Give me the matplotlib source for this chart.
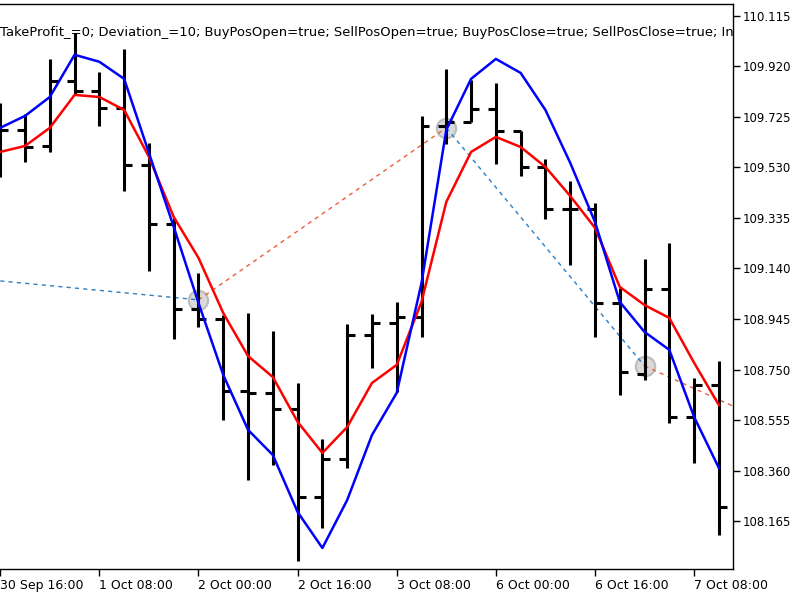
import matplotlib
matplotlib.use("Agg")
import matplotlib.pyplot as plt

# 4H bars, 30 Sep 16:00 .. 7 Oct 12:00
opens = [109.683, 109.675, 109.613, 109.864, 109.825, 109.760, 109.540, 109.312, 108.984, 108.945,
         108.667, 108.659, 108.598, 108.258, 108.405, 108.883, 108.930, 108.953, 109.690, 109.706,
         109.756, 109.671, 109.532, 109.370, 109.370, 109.007, 108.733, 109.061, 108.567, 108.690]
highs = [109.779, 109.737, 109.949, 110.049, 109.899, 109.988, 109.625, 109.335, 109.123, 108.961,
         108.968, 108.899, 108.698, 108.482, 108.926, 108.964, 109.011, 109.729, 109.910, 109.868,
         109.856, 109.671, 109.563, 109.478, 109.393, 109.065, 109.177, 109.239, 108.717, 108.783]
lows = [109.493, 109.551, 109.590, 109.810, 109.690, 109.439, 109.130, 108.868, 108.914, 108.555,
        108.323, 108.381, 108.011, 108.138, 108.370, 108.756, 108.663, 108.876, 109.621, 109.706,
        109.544, 109.497, 109.331, 109.154, 108.876, 108.652, 108.710, 108.544, 108.389, 108.111]
closes = [109.675, 109.609, 109.864, 109.825, 109.760, 109.540, 109.312, 108.984, 108.945, 108.667,
          108.659, 108.598, 108.258, 108.405, 108.883, 108.930, 108.953, 109.690, 109.706, 109.756,
          109.671, 109.532, 109.370, 109.370, 109.007, 108.740, 109.061, 108.567, 108.690, 108.219]

ma_fast = [109.683, 109.729, 109.802, 109.965, 109.938, 109.872, 109.586, 109.301, 109.007, 108.729,
           108.517, 108.420, 108.200, 108.061, 108.246, 108.497, 108.660, 109.084, 109.675, 109.872,
           109.949, 109.895, 109.752, 109.548, 109.320, 109.011, 108.895, 108.826, 108.567, 108.370]
ma_slow = [109.590, 109.613, 109.683, 109.810, 109.802, 109.752, 109.571, 109.339, 109.181, 108.968,
           108.802, 108.721, 108.548, 108.428, 108.528, 108.698, 108.768, 109.011, 109.397, 109.590,
           109.648, 109.609, 109.532, 109.420, 109.297, 109.069, 108.999, 108.949, 108.776, 108.613]

# deals: bar index / price, and the trade lines between them
deal_bars = [8, 18, 26]
deal_prices = [109.019, 109.683, 108.764]
buy_lines = [([0, 8], [109.092, 109.019]), ([18, 26], [109.683, 108.764])]
sell_lines = [([8, 18], [109.019, 109.683]), ([26, 30], [108.764, 108.590])]

x_labels = ["30 Sep 16:00", "1 Oct 08:00", "2 Oct 00:00", "2 Oct 16:00",
            "3 Oct 08:00", "6 Oct 00:00", "6 Oct 16:00", "7 Oct 08:00"]
y_ticks = [108.165, 108.360, 108.555, 108.750, 108.945, 109.140, 109.335, 109.530, 109.725, 109.920, 110.115]

info = "TakeProfit_=0; Deviation_=10; BuyPosOpen=true; SellPosOpen=true; BuyPosClose=true; SellPosClose=true; In"

plt.rcParams['font.family'] = ['DejaVu Sans']
fig = plt.figure(figsize=(8, 6), dpi=100)
ax = fig.add_axes([0, 1 - 569 / 600, 733 / 800, 565 / 600])

x = list(range(len(opens)))
w = 0.32
ax.vlines(x, lows, highs, color='black', lw=2.2, zorder=4)
ax.hlines(opens, [i - w for i in x], x, color='black', lw=2.2, zorder=4)
ax.hlines(closes, x, [i + w for i in x], color='black', lw=2.2, zorder=4)

ax.plot(x, ma_slow, color='#ff0000', lw=1.8, zorder=5)
ax.plot(x, ma_fast, color='#0000ff', lw=1.8, zorder=5)

for xs, ys in buy_lines:
    ax.plot(xs, ys, color='#2f7fc1', lw=1, dashes=(3, 3), zorder=3)
for xs, ys in sell_lines:
    ax.plot(xs, ys, color='#e8603c', lw=1, dashes=(3, 3), zorder=3)
ax.plot(deal_bars, deal_prices, 'o', ms=14, mfc='#d4d4d4', mec='#b4b4b4', mew=1.5, alpha=0.85, zorder=2)

ax.text(0.0, 0.949, info, transform=ax.transAxes, fontsize=9.45, va='center', ha='left',
        clip_on=True, zorder=1)

ax.set_xlim(-0.01, 29.57)
ax.set_ylim(107.980, 110.161)
ax.set_xticks(range(0, 30, 4))
ax.set_xticklabels(x_labels, ha='left', fontsize=9)
ax.set_yticks(y_ticks)
ax.set_yticklabels([f"{v:.3f}" for v in y_ticks], fontsize=8.5)
ax.yaxis.tick_right()
ax.tick_params(direction='out', length=5, width=1, pad=2, colors='black')
ax.spines['left'].set_visible(False)
for s in ['top', 'right', 'bottom']:
    ax.spines[s].set_linewidth(1)

fig.savefig("out.png", dpi=100)
